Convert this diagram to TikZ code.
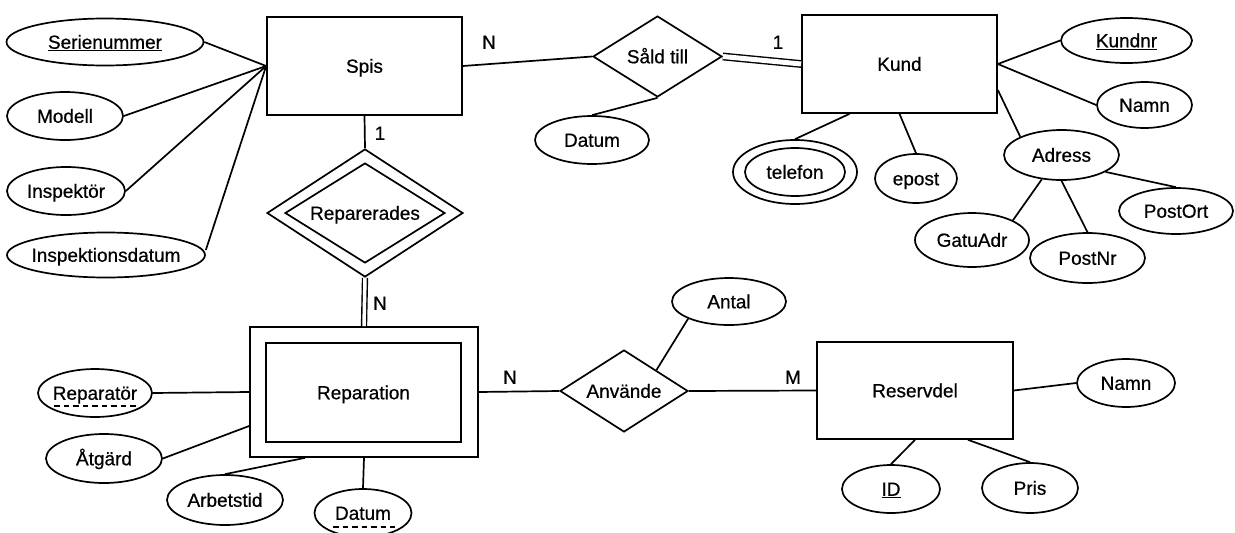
\documentclass[tikz,border=0pt]{standalone}
\usepackage{fontspec}
\setmainfont{Liberation Sans}[FakeBold=0.6]
\usetikzlibrary{shapes.geometric}
\newcommand\ztxt[1]{\makebox[0pt]{#1}}
\begin{document}
\begin{tikzpicture}[x=1pt,y=-1pt,line width=1.7pt,
  font=\fontsize{19}{22}\selectfont,
  every node/.style={text height=13.5pt,text depth=0pt},
  entbox/.style 2 args={draw,rectangle,inner sep=0pt,minimum width=#1,minimum height=#2},
  attr/.style 2 args={draw,ellipse,inner sep=0pt,minimum width=#1,minimum height=#2},
  rel/.style 2 args={draw,diamond,inner sep=0pt,aspect=1.55,minimum width=#1,minimum height=#2},
  card/.style={inner sep=0pt},
  dashul/.style={dashed,dash pattern=on 5.5pt off 4pt,line width=1.1pt},
  dblA/.style={double,double distance=5pt,line width=1.4pt},
  dblB/.style={double,double distance=3.5pt,line width=1.4pt}]
\clip (0,0) rectangle (1235,533);
\fill[white] (0,0) rectangle (1235,533);
% entities
\node[entbox={195}{98}] (spis) at (364.5,66) {Spis};
\node[entbox={195}{98}] (kund) at (899.5,64) {Kund};
\node[entbox={196}{97}] (res) at (915,390.5) {Reservdel};
\node[entbox={228}{130}] (rep) at (364,392) {};
\node[entbox={195}{99}] (repIn) at (363.5,392.5) {Reparation};
% relationships
\node[rel={129}{81}] (sald) at (657.5,56.5) {\ztxt{Såld till}};
\node[rel={196}{128}] (rpd) at (365,213) {};
\node[rel={160}{100}] (rpdIn) at (365,213) {\ztxt{Reparerades}};
\node[rel={128}{82}] (anv) at (624,391) {\ztxt{Använde}};
% attributes
\node[attr={197}{47}] (ser) at (105,42) {\ztxt{\underline{Serienummer}}};
\node[attr={116}{48}] (modell) at (65,116) {\ztxt{Modell}};
\node[attr={118}{48}] (insp) at (66,191) {\ztxt{Inspektör}};
\node[attr={198}{45}] (inspd) at (106,255) {\ztxt{Inspektionsdatum}};
\node[attr={114}{48}] (datum1) at (592,140) {\ztxt{Datum}};
\node[attr={124}{64}] (telefon) at (795,172) {};
\node[attr={100}{48}] (telIn) at (795,172) {\ztxt{telefon}};
\node[attr={82}{49}] (epost) at (916,178.5) {\ztxt{epost}};
\node[attr={131}{45}] (kundnr) at (1126.5,40.5) {\ztxt{\underline{Kundnr}}};
\node[attr={95}{46}] (namn1) at (1144.5,105) {\ztxt{Namn}};
\node[attr={115}{50}] (adress) at (1061.5,155) {\ztxt{Adress}};
\node[attr={114}{46}] (postort) at (1176,211) {\ztxt{PostOrt}};
\node[attr={114}{54}] (gatu) at (972,240) {\ztxt{GatuAdr}};
\node[attr={115}{50}] (postnr) at (1087.5,258) {\ztxt{PostNr}};
\node[attr={114}{47}] (antal) at (729,301.5) {\ztxt{Antal}};
\node[attr={98}{48}] (namn2) at (1126,383) {\ztxt{Namn}};
\node[attr={98}{48}] (id) at (891,489) {\ztxt{\underline{ID}}};
\node[attr={96}{50}] (pris) at (1030,488) {\ztxt{Pris}};
\node[attr={114}{48}] (reparator) at (95,393) {\ztxt{Reparatör}};
\node[attr={116}{49}] (atgard) at (104,458.5) {\ztxt{Åtgärd}};
\node[attr={116}{50}] (arbet) at (225,500) {\ztxt{Arbetstid}};
\node[attr={97}{48}] (datum2) at (363,513) {\ztxt{Datum}};
% partial-key underlines
\draw[dashul] ([xshift=-41pt,yshift=-13pt]reparator.center) -- ([xshift=42pt,yshift=-13pt]reparator.center);
\draw[dashul] ([xshift=-30pt,yshift=-14pt]datum2.center) -- ([xshift=32pt,yshift=-14pt]datum2.center);
% cardinalities
\node[card] (cN1) at (489,42) {N};
\node[card] (c11) at (778,42) {1};
\node[card] (c12) at (380,133) {1};
\node[card] (cN2) at (380,303) {N};
\node[card] (cN3) at (510,377) {N};
\node[card] (cM1) at (793,377) {M};
% connectors
\draw (spis.east) -- (sald.west);
\draw[dblA] (sald.east) -- (kund.west);
\draw (sald.south) -- (datum1.north);
\draw (ser.east) -- (spis.west);
\draw (modell.east) -- (spis.west);
\draw (insp.east) -- (spis.west);
\draw ([yshift=5pt]inspd.east) -- (spis.west);
\draw (spis.south) -- (rpd.north);
\draw[dblB] (rpd.south) -- (rep.north);
\draw (rep.east) -- (anv.west);
\draw (anv.east) -- (res.west);
\draw (anv.north east) -- (antal.south west);
\draw (reparator.east) -- (rep.west);
\draw (atgard.east) -- ([yshift=-34pt]rep.west);
\draw (arbet.north) -- ([xshift=-59pt]rep.south);
\draw (datum2.north) -- (rep.south);
\draw (res.east) -- (namn2.west);
\draw (res.south) -- (id.north);
\draw ([xshift=53pt]res.south) -- (pris.north);
\draw (kund.east) -- (kundnr.west);
\draw (kund.east) -- (namn1.west);
\draw ([yshift=-26pt]kund.east) -- (adress.north west);
\draw ([xshift=-50pt]kund.south) -- (telefon.north);
\draw (kund.south) -- (epost.north);
\draw (adress.231) -- (gatu.north east);
\draw (adress.south) -- (postnr.north);
\draw (adress.-21) -- (postort.north);
\end{tikzpicture}
\end{document}
